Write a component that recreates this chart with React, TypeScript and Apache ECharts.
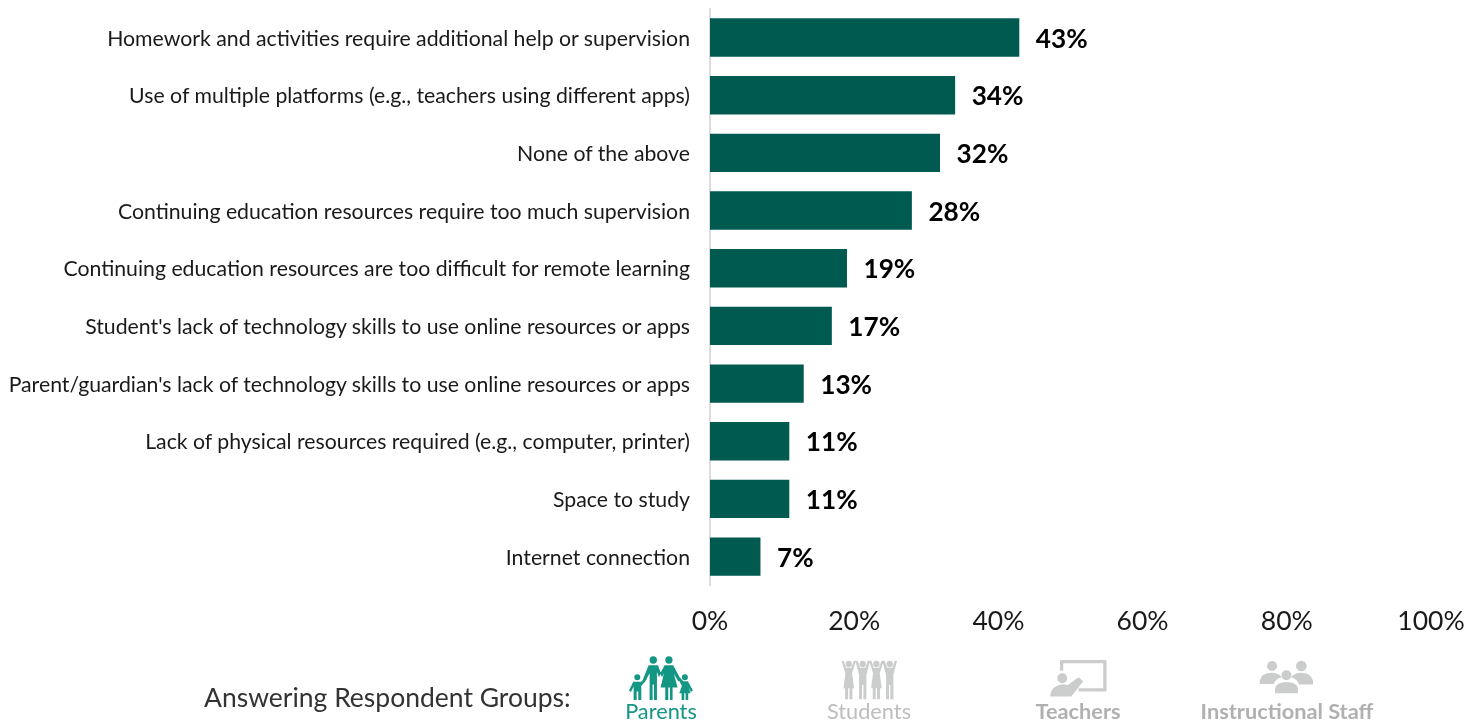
import React, { useEffect, useRef } from "react";
import * as echarts from "echarts";

const categories = [
  "Homework and activities require additional help or supervision",
  "Use of multiple platforms (e.g., teachers using different apps)",
  "None of the above",
  "Continuing education resources require too much supervision",
  "Continuing education resources are too difficult for remote learning",
  "Student's lack of technology skills to use online resources or apps",
  "Parent/guardian's lack of technology skills to use online resources or apps",
  "Lack of physical resources required (e.g., computer, printer)",
  "Space to study",
  "Internet connection",
];
const values = [42.9, 34, 31.9, 28, 19, 16.9, 13, 11, 11, 7];
const legendTitle = "Answering Respondent Groups:";
const groupLabels = ["Parents", "Students", "Teachers", "Instructional Staff"];

const circle = (cx: number, cy: number, r: number) =>
  `M${cx - r} ${cy}a${r} ${r} 0 1 0 ${2 * r} 0a${r} ${r} 0 1 0 ${-2 * r} 0Z`;

const parentsPath =
  circle(160, 60, 11) + circle(207, 60, 11) + circle(112, 112, 9) + circle(255, 112, 9) +
  "M146 76L174 76L183 100L177 112L171 96L171 180L162 180L162 134L158 134L158 180L149 180L149 100L134 128L127 123Z" +
  "M194 76L220 76L242 118L235 124L222 102L233 143L218 143L218 180L210 180L210 143L205 143L205 180L196 180L196 143L182 143L192 100L186 112L181 100Z" +
  "M100 125L124 125L136 112L141 117L124 138L124 180L115 180L115 155L110 155L110 180L101 180L101 140L93 156L87 152Z" +
  "M232 112L238 110L250 124L264 124L279 152L273 156L266 142L272 160L265 160L265 180L257 180L257 160L253 160L253 180L245 180L245 160L238 160L246 138Z";

const studentDress = (c: number) =>
  circle(c, 72, 9.5) +
  `M${c - 22} 62L${c - 15} 62L${c - 8} 83L${c + 8} 83L${c + 15} 62L${c + 22} 62L${c + 10} 100L${c + 16} 145L${c + 11} 145L${c + 11} 178L${c + 2} 178L${c + 2} 145L${c - 2} 145L${c - 2} 178L${c - 11} 178L${c - 11} 145L${c - 16} 145L${c - 10} 100Z`;
const studentTrousers = (c: number) =>
  circle(c, 72, 9.5) +
  `M${c - 22} 62L${c - 15} 62L${c - 8} 83L${c + 8} 83L${c + 15} 62L${c + 22} 62L${c + 11} 105L${c + 11} 178L${c + 2} 178L${c + 2} 135L${c - 2} 135L${c - 2} 178L${c - 11} 178L${c - 11} 105Z`;
const studentsPath = studentDress(747) + studentTrousers(789) + studentDress(830) + studentTrousers(870);

const teachersPath =
  circle(187, 115, 15) +
  "M180 92L180 64Q180 60 184 60L316 60Q320 60 320 64L320 151Q320 155 316 155L236 155L236 145L310 145L310 70L190 70L190 92Z" +
  "M150 170Q154 136 188 133L204 135L236 112L250 124L214 170Z";

const staffPath =
  circle(817, 78, 15) + circle(905, 78, 16) + circle(860, 106, 15) +
  "M780 132L780 122Q784 98 816 98Q836 98 846 112Q828 116 822 132Z" +
  "M940 134L940 122Q934 98 904 98Q884 98 874 112Q892 116 898 134Z" +
  "M826 160L826 146Q830 126 860 126Q892 126 895 146L895 160Z";

echarts.graphic.registerShape("iconParents", echarts.graphic.extendPath(parentsPath, {}) as any);
echarts.graphic.registerShape("iconStudents", echarts.graphic.extendPath(studentsPath, {}) as any);
echarts.graphic.registerShape("iconTeachers", echarts.graphic.extendPath(teachersPath, {}) as any);
echarts.graphic.registerShape("iconStaff", echarts.graphic.extendPath(staffPath, {}) as any);

const FONT = "Lato";

export default function App() {
  const ref = useRef<HTMLDivElement>(null);
  useEffect(() => {
    const chart = echarts.init(ref.current!, undefined, { renderer: "svg" });
    const caption = (text: string, x: number, color: string, bold: boolean) => ({
      type: "text",
      x,
      y: 711,
      style: {
        text,
        fontFamily: FONT,
        fontSize: 21.75,
        lineHeight: 20,
        fontWeight: bold ? "bold" : "normal",
        fill: color,
        align: "center",
        verticalAlign: "middle",
      },
    });
    const icon = (type: string, x: number, y: number, fill: string) => ({
      type,
      shape: { x: 0, y: 0, width: 1, height: 1 },
      x,
      y,
      scaleX: 1 / 3,
      scaleY: 1 / 3,
      style: { fill },
    });
    chart.setOption({
      animation: false,
      grid: { left: 710, right: 50, top: 8.7, bottom: 138.6, containLabel: false },
      xAxis: {
        type: "value",
        min: 0,
        max: 100,
        interval: 20,
        axisLine: { show: false },
        axisTick: { show: false },
        splitLine: { show: false },
        axisLabel: {
          formatter: "{value}%",
          fontFamily: FONT,
          fontSize: 26.5,
          color: "#1a1a1a",
          margin: 21,
        },
      },
      yAxis: {
        type: "category",
        inverse: true,
        data: categories,
        axisLine: { show: true, lineStyle: { color: "#dcdcdc", width: 2 } },
        axisTick: { show: false },
        axisLabel: {
          fontFamily: FONT,
          fontSize: 21.25,
          color: "#1a1a1a",
          margin: 20,
          padding: [0, 0, 1, 0],
        },
      },
      series: [
        {
          type: "bar",
          data: values,
          barWidth: "66.5%",
          itemStyle: { color: "#005a50" },
          label: {
            show: true,
            position: "right",
            distance: 16.5,
            formatter: (p: any) => `${Math.round(p.value)}%`,
            fontFamily: FONT,
            fontSize: 26.2,
            fontWeight: "bold",
            color: "#000",
          },
        },
      ],
      graphic: [
        {
          type: "text",
          x: 204,
          y: 696.5,
          style: {
            text: legendTitle,
            fontFamily: FONT,
            fontSize: 26.5,
            fill: "#333333",
            verticalAlign: "middle",
          },
        },
        icon("iconParents", 600, 640, "#149684"),
        icon("iconStudents", 600, 640, "#cbcdcc"),
        icon("iconTeachers", 1000, 640, "#cbcdcc"),
        icon("iconStaff", 1000, 640, "#cbcdcc"),
        caption(groupLabels[0], 661, "#149684", false),
        caption(groupLabels[1], 869, "#bdbdbd", false),
        caption(groupLabels[2], 1078, "#b0b0b0", true),
        caption(groupLabels[3], 1287, "#b0b0b0", true),
      ],
    });
    return () => chart.dispose();
  }, []);
  return <div ref={ref} style={{ position: "fixed", left: 0, top: 0, width: 1481, height: 724 }} />;
}
